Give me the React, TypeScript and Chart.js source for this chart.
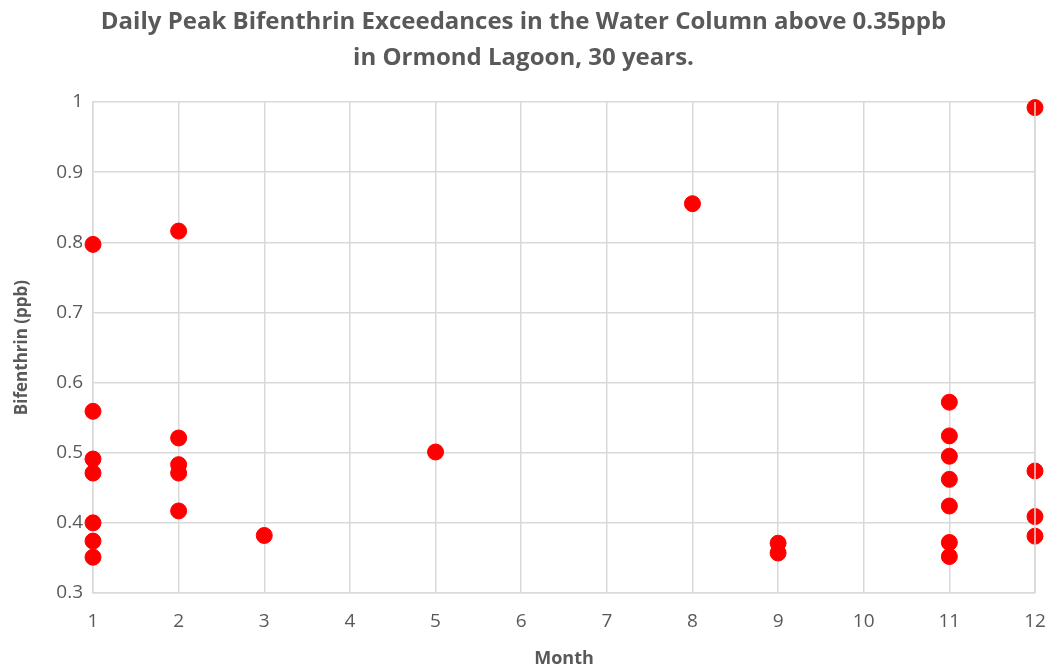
import React, { useEffect, useRef } from "react";
import { Chart, registerables } from "chart.js";

Chart.register(...registerables);

const months: number[] = [1, 1, 1, 1, 1, 1, 1, 2, 2, 2, 2, 2, 3, 5, 8, 9, 9, 11, 11, 11, 11, 11, 11, 11, 12, 12, 12, 12];
const bifenthrin: number[] = [0.797, 0.559, 0.491, 0.471, 0.4, 0.374, 0.351, 0.816, 0.521, 0.483, 0.471, 0.417, 0.382, 0.501, 0.855, 0.371, 0.357, 0.572, 0.524, 0.495, 0.462, 0.424, 0.372, 0.352, 0.992, 0.474, 0.409, 0.381];
const titleLines: string[] = ["Daily Peak Bifenthrin Exceedances in the Water Column above 0.35ppb", "in Ormond Lagoon, 30 years."];
const xTitle = "Month";
const yTitle = "Bifenthrin (ppb)";

const GREY = "#595959";
const GRID = "#d9d9d9";
const FONT = "'Open Sans', sans-serif";

export default function App() {
  const ref = useRef<HTMLCanvasElement | null>(null);
  useEffect(() => {
    if (!ref.current) return;
    const chart = new Chart(ref.current, {
      type: "scatter",
      data: {
        datasets: [
          {
            data: months.map((m, i) => ({ x: m, y: bifenthrin[i] })),
            backgroundColor: "#ff0000",
            borderColor: "#ff0000",
            pointRadius: 8,
            pointHoverRadius: 8,
            clip: false as any,
          },
        ],
      },
      options: {
        animation: false,
        responsive: false,
        layout: { padding: { left: 12, right: 16, top: 0, bottom: 0 } },
        plugins: {
          legend: { display: false },
          tooltip: { enabled: false },
          title: {
            display: true,
            text: titleLines,
            color: GREY,
            font: { family: FONT, size: 24, weight: "bold", lineHeight: 1.5 },
            padding: { top: 4, bottom: 26 },
          },
        },
        scales: {
          x: {
            type: "linear",
            min: 1,
            max: 12,
            ticks: { stepSize: 1, color: GREY, font: { family: FONT, size: 19 }, padding: 17 },
            grid: { color: GRID, lineWidth: 1.5, drawTicks: false },
            border: { color: GRID, width: 1.5 },
            title: { display: true, text: xTitle, color: GREY, font: { family: FONT, size: 18, weight: "bold" }, padding: { top: 12, bottom: 0 } },
            afterFit: (s: any) => { s.height = 77; s.paddingLeft = 0; s.paddingRight = 0; },
          },
          y: {
            type: "linear",
            min: 0.3,
            max: 1,
            ticks: { stepSize: 0.1, color: GREY, font: { family: FONT, size: 19 }, padding: 10, callback: (v: any) => String(Math.round(Number(v) * 10) / 10) },
            grid: { color: GRID, lineWidth: 1.5, drawTicks: false },
            border: { color: GRID, width: 1.5 },
            title: { display: true, text: yTitle, color: GREY, font: { family: FONT, size: 17, weight: "bold" }, padding: 0 },
            afterFit: (s: any) => { s.width = 81; },
          },
        },
      },
      plugins: [
        {
          id: "rightBorder",
          afterDraw(c: any) {
            const { ctx, chartArea } = c;
            ctx.save();
            ctx.strokeStyle = GRID;
            ctx.lineWidth = 1.5;
            ctx.beginPath();
            ctx.moveTo(chartArea.right, chartArea.top);
            ctx.lineTo(chartArea.right, chartArea.bottom);
            ctx.stroke();
            ctx.restore();
          },
        },
      ],
    });
    return () => chart.destroy();
  }, []);
  return (
    <div style={{ position: "absolute", left: 0, top: 0, width: 1051, height: 670, background: "#fff" }}>
      <canvas ref={ref} width={1051} height={670} style={{ width: 1051, height: 670 }} />
    </div>
  );
}
